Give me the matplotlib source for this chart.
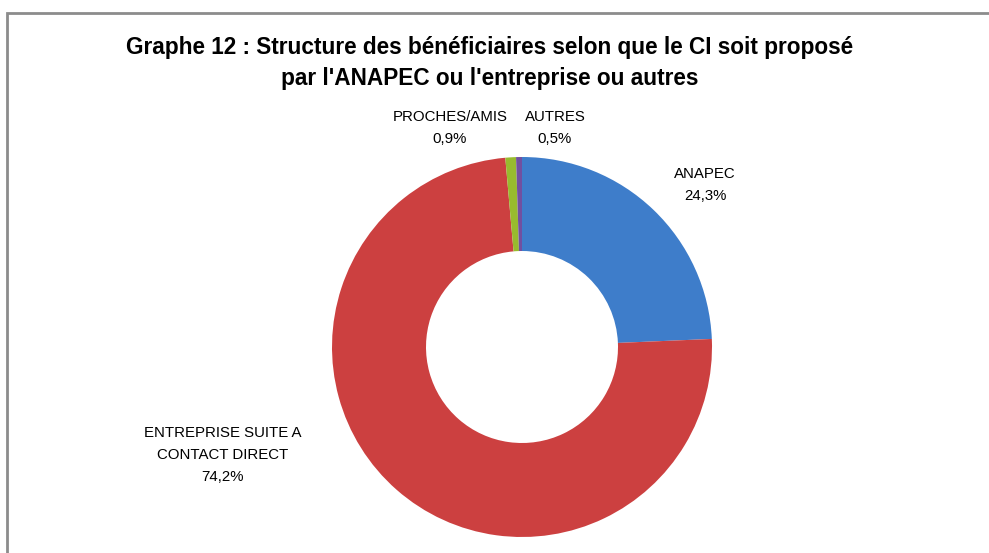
import matplotlib.pyplot as plt
from matplotlib.patches import Rectangle

# data
labels = ['ANAPEC', 'ENTREPRISE SUITE A\nCONTACT DIRECT', 'PROCHES/AMIS', 'AUTRES']
values = [24.3, 74.2, 0.9, 0.5]
colors = ['#3e7dca', '#cc4040', '#98bb2e', '#7150a0']
title = "Graphe 12 : Structure des bénéficiaires selon que le CI soit proposé\npar l'ANAPEC ou l'entreprise ou autres"

plt.rcParams['font.family'] = ['Liberation Sans', 'DejaVu Sans']

W, H = 989, 553
fig = plt.figure(figsize=(W / 100, H / 100), dpi=100)
ax = fig.add_axes([0, 0, 1, 1])

# outer frame (right and bottom edges are cut off in the original)
ax.add_patch(Rectangle((6.5, -10), W + 20, H - 12.5 + 10, fill=False,
                       edgecolor='#8c8c8c', linewidth=2))

cx, cy, r = 522, H - 347, 190
wedges, _ = ax.pie(values, colors=colors, startangle=90, counterclock=False,
                   center=(cx, cy), radius=r, frame=True,
                   wedgeprops=dict(width=94, edgecolor='none'))
ax.set_xlim(0, W)
ax.set_ylim(0, H)
ax.set_aspect('equal')
ax.axis('off')

# data labels
label_pos = [(705, 185), (223, 455), (450, 128), (555, 128)]
for lab, v, (x, y) in zip(labels, values, label_pos):
    txt = lab + '\n' + f'{v:.1f}'.replace('.', ',') + '%'
    ax.text(x, H - y, txt, ha='center', va='center', fontsize=10.8,
            linespacing=1.75, color='black')

ax.text(490, H - 63, title, ha='center', va='center', fontsize=16.3,
        fontweight='bold', linespacing=1.4)

fig.savefig('out.png', dpi=100)
